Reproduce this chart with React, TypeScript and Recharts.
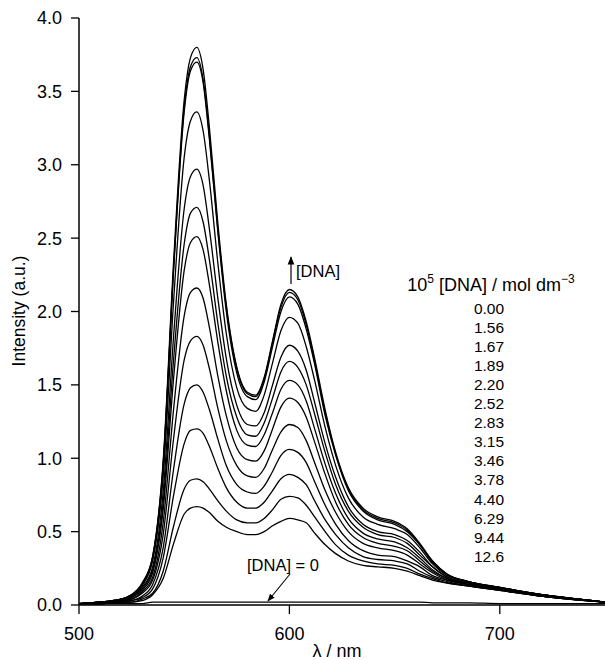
import React from "react";
import { LineChart, Line, XAxis, YAxis } from "recharts";

const wavelengths = [500,510,520,525,530,535,540,545,550,553,556,559,562,566,570,575,580,584,588,592,596,600,604,608,612,617,622,628,635,642,650,656,662,668,675,685,700,720,750];

const c0 = [0.01,0.01,0.01,0.01,0.01,0.02,0.02,0.02,0.02,0.02,0.02,0.02,0.02,0.02,0.02,0.02,0.02,0.02,0.02,0.02,0.02,0.02,0.02,0.02,0.02,0.02,0.02,0.02,0.02,0.02,0.02,0.02,0.02,0.015,0.015,0.015,0.01,0.01,0.01];
const c1 = [0.01,0.02,0.04,0.07,0.15,0.33,0.98,2.35,3.44,3.73,3.80,3.65,3.25,2.60,2.05,1.62,1.45,1.43,1.55,1.80,2.05,2.15,2.10,1.93,1.68,1.33,1.04,0.80,0.66,0.60,0.57,0.52,0.42,0.30,0.21,0.16,0.12,0.07,0.02];
const c2 = [0.01,0.02,0.04,0.07,0.14,0.33,0.96,2.30,3.39,3.67,3.73,3.58,3.19,2.56,2.03,1.61,1.44,1.42,1.54,1.79,2.03,2.13,2.08,1.91,1.66,1.31,1.03,0.79,0.65,0.59,0.56,0.51,0.41,0.30,0.21,0.16,0.12,0.07,0.02];
const c3 = [0.01,0.02,0.04,0.07,0.14,0.32,0.95,2.29,3.36,3.64,3.70,3.56,3.17,2.54,2.00,1.58,1.42,1.40,1.52,1.76,2.00,2.10,2.05,1.88,1.64,1.29,1.02,0.78,0.64,0.58,0.55,0.50,0.41,0.29,0.21,0.16,0.12,0.07,0.02];
const c4 = [0.01,0.02,0.04,0.06,0.13,0.30,0.87,2.08,3.05,3.30,3.36,3.23,2.89,2.33,1.85,1.48,1.34,1.32,1.43,1.65,1.87,1.96,1.92,1.76,1.53,1.21,0.95,0.73,0.60,0.55,0.52,0.48,0.39,0.28,0.20,0.16,0.12,0.07,0.02];
const c5 = [0.01,0.02,0.03,0.06,0.12,0.26,0.77,1.84,2.70,2.92,2.97,2.86,2.56,2.09,1.68,1.36,1.23,1.22,1.31,1.50,1.69,1.77,1.73,1.60,1.38,1.10,0.87,0.67,0.55,0.50,0.48,0.44,0.36,0.26,0.19,0.15,0.11,0.07,0.02];
const c6 = [0.01,0.02,0.03,0.05,0.11,0.24,0.70,1.68,2.46,2.67,2.71,2.61,2.35,1.92,1.56,1.28,1.16,1.15,1.24,1.41,1.59,1.66,1.62,1.50,1.30,1.04,0.82,0.64,0.53,0.48,0.46,0.42,0.34,0.26,0.19,0.15,0.11,0.07,0.02];
const c7 = [0.01,0.02,0.03,0.05,0.10,0.22,0.65,1.55,2.28,2.47,2.51,2.42,2.18,1.79,1.46,1.19,1.09,1.08,1.16,1.31,1.47,1.53,1.50,1.39,1.20,0.96,0.76,0.59,0.49,0.45,0.43,0.39,0.32,0.24,0.18,0.15,0.11,0.07,0.02];
const c8 = [0.01,0.01,0.03,0.04,0.09,0.19,0.56,1.34,1.97,2.13,2.16,2.09,1.89,1.56,1.29,1.07,0.99,0.98,1.05,1.20,1.35,1.41,1.38,1.28,1.11,0.89,0.70,0.55,0.46,0.42,0.40,0.37,0.30,0.23,0.18,0.14,0.11,0.06,0.02];
const c9 = [0.01,0.01,0.02,0.04,0.08,0.17,0.48,1.14,1.67,1.80,1.83,1.77,1.61,1.34,1.12,0.95,0.88,0.87,0.93,1.06,1.18,1.23,1.21,1.12,0.97,0.78,0.63,0.50,0.42,0.39,0.37,0.34,0.28,0.22,0.17,0.14,0.11,0.06,0.02];
const c10 = [0.01,0.01,0.02,0.03,0.06,0.14,0.39,0.93,1.37,1.48,1.50,1.45,1.33,1.13,0.95,0.82,0.77,0.76,0.81,0.91,1.02,1.06,1.04,0.97,0.84,0.68,0.55,0.44,0.37,0.34,0.33,0.30,0.26,0.20,0.17,0.14,0.11,0.06,0.02];
const c11 = [0.01,0.01,0.02,0.03,0.05,0.11,0.32,0.75,1.10,1.19,1.20,1.17,1.08,0.93,0.80,0.70,0.66,0.66,0.70,0.78,0.86,0.89,0.87,0.82,0.71,0.58,0.48,0.39,0.33,0.31,0.30,0.28,0.23,0.19,0.16,0.13,0.10,0.06,0.02];
const c12 = [0.01,0.01,0.02,0.02,0.04,0.08,0.23,0.54,0.79,0.85,0.86,0.84,0.79,0.71,0.64,0.58,0.56,0.56,0.59,0.65,0.72,0.74,0.73,0.68,0.60,0.50,0.41,0.34,0.30,0.28,0.27,0.25,0.21,0.18,0.15,0.13,0.10,0.06,0.02];
const c13 = [0.01,0.01,0.02,0.02,0.03,0.07,0.18,0.42,0.62,0.66,0.67,0.66,0.63,0.57,0.53,0.50,0.48,0.48,0.50,0.54,0.57,0.59,0.58,0.56,0.49,0.41,0.35,0.30,0.27,0.26,0.25,0.23,0.20,0.17,0.15,0.13,0.10,0.06,0.02];

const seriesList = [c0, c13, c12, c11, c10, c9, c8, c7, c6, c5, c4, c3, c2, c1];
const concentrations = ["0.00","1.56","1.67","1.89","2.20","2.52","2.83","3.15","3.46","3.78","4.40","6.29","9.44","12.6"];
const xTicks = [500, 600, 700];
const yTicks = [0, 0.5, 1.0, 1.5, 2.0, 2.5, 3.0, 3.5, 4.0];

const data = wavelengths.map((wl, i) => {
  const row: Record<string, number> = { wl };
  seriesList.forEach((s, k) => { row["s" + k] = s[i]; });
  return row;
});

const FONT = "'Liberation Sans', Arial, Helvetica, sans-serif";

export default function App() {
  return (
    <div style={{ position: "absolute", left: 0, top: 0, width: 605, height: 660, background: "#fff", fontFamily: FONT }}>
      <LineChart width={605} height={660} data={data} margin={{ top: 18, right: 0, left: 0, bottom: 0 }}>
        <XAxis
          dataKey="wl"
          type="number"
          domain={[500, 750]}
          ticks={xTicks}
          allowDataOverflow
          height={55}
          tickSize={9}
          tickMargin={13}
          stroke="#000"
          tick={{ fill: "#000", fontSize: 18, fontFamily: FONT }}
          tickLine={{ stroke: "#000", strokeWidth: 1.3 }}
          axisLine={{ stroke: "#000", strokeWidth: 1.5 }}
        />
        <YAxis
          type="number"
          domain={[0, 4]}
          ticks={yTicks}
          allowDataOverflow
          width={79}
          tickSize={8}
          tickMargin={9}
          tickFormatter={(v: number) => v.toFixed(1)}
          stroke="#000"
          tick={{ fill: "#000", fontSize: 18, fontFamily: FONT }}
          tickLine={{ stroke: "#000", strokeWidth: 1.3 }}
          axisLine={{ stroke: "#000", strokeWidth: 1.5 }}
        />
        {seriesList.map((_, k) => (
          <Line
            key={k}
            dataKey={"s" + k}
            type="monotone"
            stroke="#000"
            strokeWidth={1.3}
            dot={false}
            activeDot={false}
            isAnimationActive={false}
          />
        ))}
      </LineChart>
      <svg width={605} height={660} style={{ position: "absolute", left: 0, top: 0, pointerEvents: "none" }} fontFamily={FONT}>
        <defs>
          <marker id="arrowHead" viewBox="0 0 10 10" refX="9" refY="5" markerWidth="7" markerHeight="7" orient="auto-start-reverse">
            <path d="M0,1 L10,5 L0,9 z" fill="#000" />
          </marker>
        </defs>
        <text x={19} y={311} transform="rotate(-90 19 311)" textAnchor="middle" dominantBaseline="central" fontSize={17.5} fill="#000">Intensity (a.u.)</text>
        <text x={337} y={657} textAnchor="middle" fontSize={18} fill="#000">λ / nm</text>
        <line x1={291} y1={284} x2={291} y2={257} stroke="#000" strokeWidth={1.2} markerEnd="url(#arrowHead)" />
        <text x={296} y={277} fontSize={16.5} fill="#000">[DNA]</text>
        <text x={247} y={571} fontSize={16.5} fill="#000">[DNA] = 0</text>
        <line x1={290} y1={574} x2={268} y2={601} stroke="#000" strokeWidth={1.1} markerEnd="url(#arrowHead)" />
        <text x={491} y={291} textAnchor="middle" fontSize={18} fill="#000">
          <tspan>10</tspan>
          <tspan dy={-8} fontSize={12}>5</tspan>
          <tspan dy={8}> [DNA] / mol dm</tspan>
          <tspan dy={-8} fontSize={12}>−3</tspan>
        </text>
        {concentrations.map((c, i) => (
          <text key={c} x={489} y={314 + i * 19.05} textAnchor="middle" fontSize={15.5} fill="#000">{c}</text>
        ))}
      </svg>
    </div>
  );
}
